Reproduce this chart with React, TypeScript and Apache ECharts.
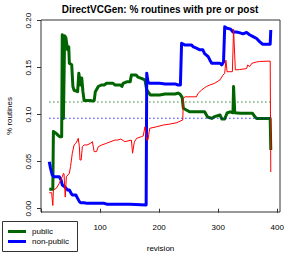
import React, { useEffect, useRef } from "react";
import * as echarts from "echarts";

const chartTitle = "DirectVCGen: % routines with pre or post";
const xName = "revision";
const yName = "% routines";
const seriesNames = ["public", "non-public"];
const seriesColors = ["#006400", "#0000ff"];
const otherColor = "#ff0000";
const xTicks = [0, 100, 200, 300, 400];
const xLabels = [100, 200, 300, 400];
const yTicks = [0, 0.05, 0.1, 0.15, 0.2];

const publicData: [number, number][] = [
  [14, 0.0206], [20, 0.0206], [21, 0.082], [26, 0.08], [29, 0.078], [32, 0.0766], [35, 0.0766],
  [36, 0.185], [38, 0.096], [40, 0.184], [42, 0.182], [45, 0.169], [47, 0.172], [48, 0.1547],
  [52, 0.153], [54, 0.13], [56, 0.126], [62, 0.1245], [64, 0.144], [67, 0.1316], [69, 0.139],
  [71, 0.1245], [73, 0.115], [83, 0.115], [87, 0.1146], [90, 0.115], [92, 0.1245], [97, 0.13],
  [102, 0.1316], [107, 0.1316], [111, 0.1334], [122, 0.1334], [125, 0.1316], [134, 0.1316],
  [137, 0.13], [139, 0.1334], [146, 0.1351], [151, 0.1351], [153, 0.1422], [161, 0.1422],
  [164, 0.14], [170, 0.1387], [176, 0.137], [179, 0.1263], [181, 0.1245], [185, 0.121],
  [201, 0.121], [210, 0.122], [227, 0.122], [232, 0.123], [235, 0.122], [239, 0.1185],
  [241, 0.1068], [246, 0.105], [252, 0.103], [277, 0.103], [282, 0.0975], [289, 0.096],
  [294, 0.098], [303, 0.0997], [306, 0.0954], [311, 0.0954], [315, 0.1018], [320, 0.103],
  [325, 0.102], [326, 0.13], [328, 0.102], [337, 0.1015], [353, 0.1015], [358, 0.1015],
  [362, 0.098], [365, 0.096], [388, 0.096], [389, 0.0625],
];

const nonPublicData: [number, number][] = [
  [14, 0.05], [16, 0.0433], [19, 0.0359], [22, 0.034], [31, 0.034], [34, 0.0305], [36, 0.0252],
  [40, 0.0234], [45, 0.0199], [48, 0.0199], [51, 0.0164], [53, 0.0146], [59, 0.0146], [62, 0.011],
  [65, 0.0075], [67, 0.0064], [73, 0.0064], [78, 0.0057], [107, 0.0057], [112, 0.0047],
  [151, 0.0047], [178, 0.0039], [179, 0.144], [181, 0.135], [184, 0.1334], [201, 0.1334],
  [210, 0.1327], [227, 0.1327], [232, 0.1316], [236, 0.1316], [238, 0.176], [244, 0.174],
  [255, 0.174], [258, 0.172], [263, 0.1707], [269, 0.169], [274, 0.169], [277, 0.165],
  [283, 0.1617], [286, 0.158], [289, 0.1547], [303, 0.1547], [306, 0.153], [309, 0.156],
  [311, 0.1936], [315, 0.192], [321, 0.191], [325, 0.188], [331, 0.188], [337, 0.187],
  [342, 0.186], [348, 0.1875], [353, 0.185], [359, 0.183], [365, 0.181], [370, 0.1777],
  [375, 0.175], [388, 0.175], [389, 0.19],
];

const otherData: [number, number][] = [
  [14, 0.017], [18, 0.017], [20, 0.0034], [21, 0.0199], [26, 0.0217], [31, 0.027], [36, 0.034],
  [38, 0.0377], [39, 0.037], [41, 0.0124], [43, 0.034], [48, 0.0377], [50, 0.0447], [53, 0.059],
  [56, 0.0678], [59, 0.0696], [62, 0.073], [63, 0.0749], [65, 0.066], [66, 0.0518], [68, 0.0518],
  [70, 0.066], [73, 0.0678], [78, 0.0678], [84, 0.0696], [87, 0.0713], [90, 0.0607], [94, 0.0607],
  [97, 0.066], [103, 0.0678], [111, 0.0696], [125, 0.073], [130, 0.073], [135, 0.0741],
  [142, 0.0713], [153, 0.073], [155, 0.059], [158, 0.071], [162, 0.0749], [170, 0.0766],
  [173, 0.0773], [176, 0.0872], [179, 0.073], [181, 0.073], [184, 0.0855], [196, 0.0872],
  [207, 0.089], [218, 0.09], [230, 0.0915], [240, 0.0944], [241, 0.1175], [244, 0.119],
  [263, 0.119], [266, 0.1228], [272, 0.1263], [280, 0.13], [286, 0.1316], [294, 0.1334],
  [303, 0.137], [306, 0.14], [308, 0.142], [311, 0.144], [313, 0.158], [315, 0.1457],
  [324, 0.1457], [326, 0.191], [329, 0.1476], [336, 0.148], [348, 0.149], [350, 0.153],
  [353, 0.151], [357, 0.1547], [365, 0.156], [370, 0.1566], [388, 0.157], [389, 0.039],
];

const publicMean = 0.1135;
const nonPublicMean = 0.0962;
const meanStart = 14;
const meanEnd = 388;

const FONT = "'Liberation Sans', Arial, Helvetica, sans-serif";

export default function App() {
  const ref = useRef<HTMLDivElement>(null);
  useEffect(() => {
    if (!ref.current) return;
    const chart = echarts.init(ref.current, null, { renderer: "svg" });
    const legendY = [231.5, 241.5];
    chart.setOption({
      animation: false,
      backgroundColor: "#ffffff",
      title: {
        text: chartTitle,
        left: 160,
        top: 4,
        padding: 0,
        textAlign: "center",
        textStyle: { fontSize: 10, fontWeight: "bold", fontFamily: FONT, color: "#000" },
      },
      grid: {
        left: 41,
        right: 14,
        top: 20,
        bottom: 42,
        show: true,
        borderColor: "#333",
        borderWidth: 1,
        backgroundColor: "transparent",
        containLabel: false,
        outerBoundsMode: "none",
      },
      xAxis: {
        type: "value",
        min: 0,
        max: 404.6,
        name: xName,
        nameLocation: "middle",
        nameGap: 32,
        nameTextStyle: { fontSize: 8, fontFamily: FONT, color: "#000" },
        axisLine: { show: false },
        splitLine: { show: false },
        axisTick: { show: true, length: 4, inside: false, customValues: xTicks, lineStyle: { color: "#333" } },
        axisLabel: {
          customValues: xLabels,
          fontSize: 8,
          fontFamily: FONT,
          color: "#000",
          margin: 11,
          formatter: (v: number) => String(v),
        },
      },
      yAxis: {
        type: "value",
        min: -0.0035,
        max: 0.2007,
        name: yName,
        nameLocation: "middle",
        nameGap: 28,
        nameRotate: 90,
        nameTextStyle: { fontSize: 8, fontFamily: FONT, color: "#000" },
        axisLine: { show: false },
        splitLine: { show: false },
        axisTick: { show: true, length: 4, inside: false, customValues: yTicks, lineStyle: { color: "#333" } },
        axisLabel: {
          customValues: yTicks,
          rotate: 90,
          fontSize: 8,
          fontFamily: FONT,
          color: "#000",
          margin: 9,
          formatter: (v: number) => v.toFixed(2),
        },
      },
      series: [
        {
          name: seriesNames[0],
          type: "line",
          data: publicData,
          showSymbol: false,
          symbol: "none",
          lineStyle: { color: seriesColors[0], width: 3, join: "round" },
          z: 2,
        },
        {
          name: seriesNames[1],
          type: "line",
          data: nonPublicData,
          showSymbol: false,
          symbol: "none",
          lineStyle: { color: seriesColors[1], width: 3, join: "round" },
          z: 3,
        },
        {
          name: "all",
          type: "line",
          data: otherData,
          showSymbol: false,
          symbol: "none",
          lineStyle: { color: otherColor, width: 1 },
          z: 4,
        },
        {
          name: "public mean",
          type: "line",
          data: [[meanStart, publicMean], [meanEnd, publicMean]],
          showSymbol: false,
          symbol: "none",
          lineStyle: { color: seriesColors[0], width: 1.2, type: [1.2, 2.8] },
          z: 5,
        },
        {
          name: "non-public mean",
          type: "line",
          data: [[meanStart, nonPublicMean], [meanEnd, nonPublicMean]],
          showSymbol: false,
          symbol: "none",
          lineStyle: { color: seriesColors[1], width: 1.2, type: [1.2, 2.8] },
          z: 5,
        },
      ],
      graphic: [
        {
          type: "rect",
          shape: { x: 2.5, y: 221.5, width: 75, height: 30 },
          style: { fill: "#fff", stroke: "#333", lineWidth: 1 },
          z: 100,
        },
        ...seriesNames.map((n, i) => ({
          type: "line",
          shape: { x1: 8, y1: legendY[i], x2: 26, y2: legendY[i] },
          style: { stroke: seriesColors[i], lineWidth: 3 },
          z: 101,
        })),
        ...seriesNames.map((n, i) => ({
          type: "text",
          x: 32,
          y: legendY[i],
          style: {
            text: n,
            fontSize: 8,
            fontFamily: FONT,
            fill: "#000",
            verticalAlign: "middle",
            textVerticalAlign: "middle",
          },
          z: 101,
        })),
      ],
    });
    return () => chart.dispose();
  }, []);
  return (
    <div
      ref={ref}
      style={{ position: "fixed", left: 0, top: 0, width: 294, height: 254 }}
    />
  );
}
